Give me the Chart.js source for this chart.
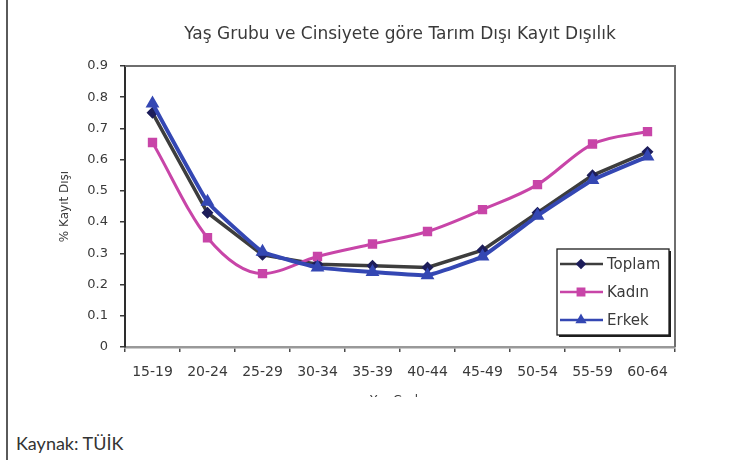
<!DOCTYPE html>
<html lang="tr">
<head>
<meta charset="utf-8">
<title>Yaş Grubu ve Cinsiyete göre Tarım Dışı Kayıt Dışılık</title>
<script src="https://cdn.jsdelivr.net/npm/chart.js@4.4.0/dist/chart.umd.min.js"></script>
<style>
  html, body { margin: 0; padding: 0; background: #fff; }
  #page { position: relative; width: 733px; height: 460px; overflow: hidden; background: #fff; }
  #frame { position: absolute; left: 0; top: 0; width: 733px; height: 397px; overflow: hidden; }
  #chart { display: block; filter: blur(0.6px); }
  #rule { position: absolute; left: 6px; top: 0; width: 2px; height: 460px; background: #5a5a5a; }
  #source { position: absolute; left: 16px; top: 433px; font: 18px/20px Lato, "Open Sans", sans-serif; color: #333; }
</style>
</head>
<body>
<div id="page">
  <div id="frame"><canvas id="chart" width="733" height="412"></canvas></div>
  <div id="rule"></div>
  <div id="source">Kaynak: TÜİK</div>
</div>
<script>
// Age groups on the x axis
const ageGroups = ['15-19', '20-24', '25-29', '30-34', '35-39', '40-44', '45-49', '50-54', '55-59', '60-64'];

// Share of informal employment outside agriculture, by sex
const toplam = [0.75, 0.43, 0.295, 0.265, 0.26, 0.255, 0.31, 0.43, 0.55, 0.625];
const kadin  = [0.655, 0.35, 0.235, 0.29, 0.33, 0.37, 0.44, 0.52, 0.65, 0.69];
const erkek  = [0.78, 0.465, 0.305, 0.255, 0.24, 0.23, 0.29, 0.42, 0.535, 0.61];

// Value axis range
const yMin = 0, yMax = 0.9, yStep = 0.1;

const FONT = '"DejaVu Sans", Verdana, sans-serif';
const TEXT = '#3a3a3a';

// Outline along the top and right of the plot area
const plotFrame = {
  id: 'plotFrame',
  afterDatasetsDraw(chart) {
    const { ctx, chartArea: a } = chart;
    ctx.save();
    ctx.strokeStyle = '#6e6e6e';
    ctx.lineWidth = 2;
    ctx.beginPath();
    ctx.moveTo(a.left, a.top);
    ctx.lineTo(a.right, a.top);
    ctx.lineTo(a.right, a.bottom);
    ctx.stroke();
    ctx.restore();
  }
};

// Boxed legend in the lower right corner of the plot area
const boxLegend = {
  id: 'boxLegend',
  afterDraw(chart) {
    const { ctx, chartArea: a } = chart;
    const w = 112, h = 86;
    const x = a.right - 118, y = a.bottom - 98;
    ctx.save();
    ctx.fillStyle = '#1e1e1e';
    ctx.fillRect(x + 2, y + 2, w, h);
    ctx.fillStyle = '#fff';
    ctx.fillRect(x, y, w, h);
    ctx.strokeStyle = '#1e1e1e';
    ctx.lineWidth = 1.3;
    ctx.strokeRect(x, y, w, h);
    chart.data.datasets.forEach((ds, i) => {
      const cy = y + 15 + i * 28;
      ctx.strokeStyle = ds.borderColor;
      ctx.lineWidth = 2.5;
      ctx.beginPath();
      ctx.moveTo(x + 3, cy);
      ctx.lineTo(x + 46, cy);
      ctx.stroke();
      ctx.fillStyle = ds.pointBackgroundColor;
      ctx.strokeStyle = ds.pointBorderColor;
      Chart.helpers.drawPoint(ctx, {
        pointStyle: ds.pointStyle,
        radius: ds.pointRadius,
        borderWidth: 1,
        rotation: 0
      }, x + 24, cy);
      ctx.font = '15px ' + FONT;
      ctx.fillStyle = TEXT;
      ctx.textAlign = 'left';
      ctx.textBaseline = 'middle';
      ctx.fillText(ds.label, x + 50, cy + 1);
    });
    ctx.restore();
  }
};

const ctx = document.getElementById('chart').getContext('2d');

new Chart(ctx, {
  type: 'line',
  data: {
    labels: ageGroups,
    datasets: [
      {
        label: 'Toplam',
        data: toplam,
        borderColor: '#3d3d3d',
        borderWidth: 3.5,
        pointStyle: 'rectRot',
        pointRadius: 3.5,
        pointBackgroundColor: '#1d1d5a',
        pointBorderColor: '#1d1d5a',
        tension: 0,
        order: 2
      },
      {
        label: 'Kadın',
        data: kadin,
        borderColor: '#c845a8',
        borderWidth: 3,
        pointStyle: 'rect',
        pointRadius: 4.5,
        pointBackgroundColor: '#c845a8',
        pointBorderColor: '#c845a8',
        cubicInterpolationMode: 'monotone',
        order: 1
      },
      {
        label: 'Erkek',
        data: erkek,
        borderColor: '#3447b3',
        borderWidth: 4,
        pointStyle: 'triangle',
        pointRadius: 4,
        pointBackgroundColor: '#3447b3',
        pointBorderColor: '#3447b3',
        tension: 0.1,
        order: 0
      }
    ]
  },
  options: {
    responsive: false,
    animation: false,
    devicePixelRatio: 1,
    layout: { padding: { left: 0, right: 58, top: 0, bottom: 0 } },
    plugins: {
      legend: { display: false },
      tooltip: { enabled: false },
      title: {
        display: true,
        fullSize: false,
        text: 'Yaş Grubu ve Cinsiyete göre Tarım Dışı Kayıt Dışılık',
        color: TEXT,
        font: { family: FONT, size: 17, weight: 'normal', lineHeight: 1.2 },
        padding: { top: 24.8, bottom: 20.8 }
      }
    },
    scales: {
      x: {
        offset: true,
        grid: {
          display: true,
          offset: true,
          drawOnChartArea: false,
          drawTicks: true,
          tickLength: 5,
          color: '#4a4a4a',
          lineWidth: 1.5
        },
        border: { display: true, color: '#999', width: 2.5 },
        ticks: {
          color: TEXT,
          font: { family: FONT, size: 14 },
          padding: 12,
          maxRotation: 0,
          autoSkip: false
        },
        title: {
          display: true,
          text: 'Yaş Grubu',
          color: TEXT,
          font: { family: FONT, size: 12, lineHeight: 1.2 },
          padding: { top: 0, bottom: 4 }
        },
        afterFit(scale) { scale.height = 65; }
      },
      y: {
        min: yMin,
        max: yMax,
        grid: {
          display: true,
          drawOnChartArea: false,
          drawTicks: true,
          tickLength: 5,
          color: '#3a3a3a',
          lineWidth: 1.5
        },
        border: { display: true, color: '#2e2e2e', width: 2 },
        ticks: {
          stepSize: yStep,
          color: TEXT,
          font: { family: FONT, size: 13 },
          padding: 12
        },
        title: {
          display: true,
          text: '% Kayıt Dışı',
          color: TEXT,
          font: { family: FONT, size: 12, lineHeight: 1.2 },
          padding: { top: 57.8, bottom: 0 }
        },
        afterFit(scale) { scale.width = 125; }
      }
    }
  },
  plugins: [plotFrame, boxLegend]
});
</script>
</body>
</html>
